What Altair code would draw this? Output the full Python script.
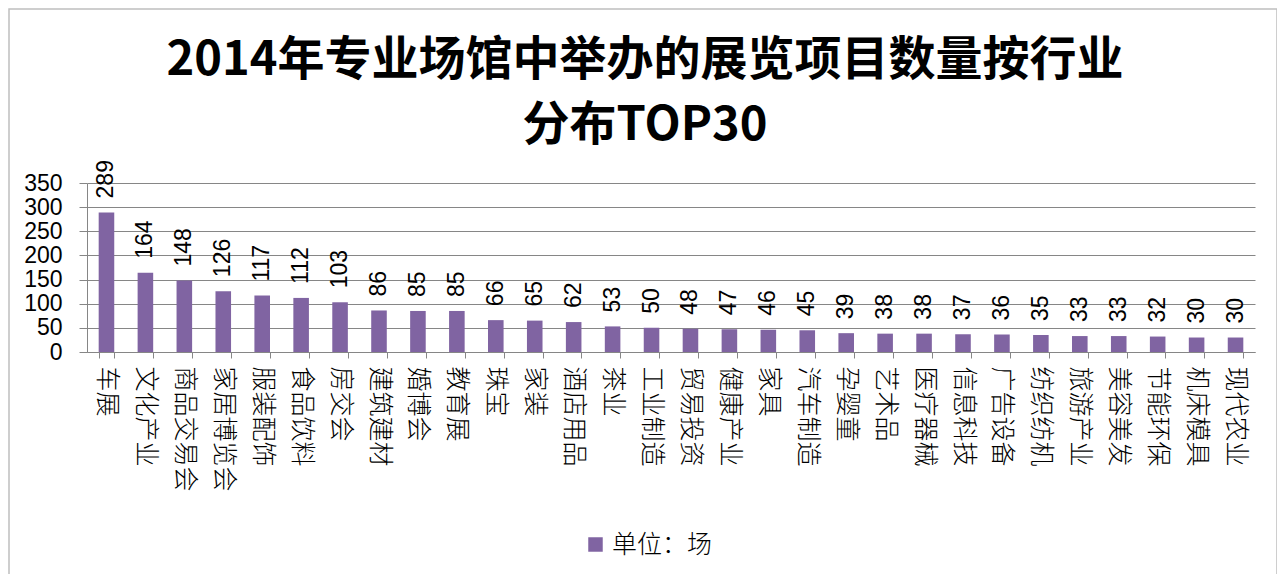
import altair as alt
import pandas as pd

categories = ["车展", "文化产业", "商品交易会", "家居博览会", "服装配饰", "食品饮料", "房交会",
              "建筑建材", "婚博会", "教育展", "珠宝", "家装", "酒店用品", "茶业", "工业制造",
              "贸易投资", "健康产业", "家具", "汽车制造", "孕婴童", "艺术品", "医疗器械",
              "信息科技", "广告设备", "纺织纺机", "旅游产业", "美容美发", "节能环保", "机床模具", "现代农业"]
values = [289, 164, 148, 126, 117, 112, 103, 86, 85, 85, 66, 65, 62, 53, 50,
          48, 47, 46, 45, 39, 38, 38, 37, 36, 35, 33, 33, 32, 30, 30]
series_name = "单位：场"
title_lines = ["2014年专业场馆中举办的展览项目数量按行业", "分布TOP30"]
y_ticks = [0, 50, 100, 150, 200, 250, 300, 350]

df = pd.DataFrame({"行业": categories, "数量": values, "系列": series_name})

CJK = "Noto Sans CJK SC"
NUM = "Liberation Sans"

x = alt.X("行业:N", sort=categories,
          scale=alt.Scale(paddingInner=0.6, paddingOuter=0.3),
          axis=alt.Axis(title=None, labelAngle=90, labelAlign="left", labelBaseline="middle",
                        labelFont=CJK, labelFontSize=25, labelFontWeight=300,
                        labelColor="#000000", labelPadding=8,
                        tickBand="extent", tickSize=6, tickColor="#868686",
                        domainColor="#868686", labelOverlap=False, labelLimit=300))
y = alt.Y("数量:Q", scale=alt.Scale(domain=[0, 350], nice=False),
          axis=alt.Axis(title=None, values=y_ticks, labelFont=NUM,
                        labelFontSize=23, labelColor="#000000", tickSize=8,
                        tickColor="#868686", domainColor="#868686", gridColor="#868686",
                        labelPadding=17, labelOverlap=False, labelFlush=False))

bars = alt.Chart(df).mark_bar(color="#8064A2").encode(
    x=x, y=y,
    color=alt.Color("系列:N", scale=alt.Scale(range=["#8064A2"]),
                    legend=alt.Legend(title=None, orient="none", legendX=496, legendY=349,
                                      symbolType="square", symbolSize=210,
                                      labelFont=CJK, labelFontSize=25, labelFontWeight=300,
                                      labelColor="#000000", symbolStrokeWidth=0))
)
labels = alt.Chart(df).mark_text(angle=270, align="left", baseline="middle", dx=14,
                                 font=NUM, fontSize=23, color="#000000").encode(
    x=x, y=y, text="数量:Q")

frame_df = pd.DataFrame({"k": [0]})
border = alt.Chart(frame_df).mark_rect(fill=None, stroke="#BFBFBF", strokeWidth=1.5,
                                       clip=False).encode(
    x=alt.value(-78), x2=alt.value(1190), y=alt.value(-174), y2=alt.value(392))

chart = alt.layer(bars, labels, border).properties(
    width=1168, height=169,
    title=alt.TitleParams(title_lines, font=CJK, fontSize=47, fontWeight="bold",
                          color="#000000", lineHeight=65, anchor="middle", frame="group",
                          dx=-26, offset=-142),
    autosize=alt.AutoSizeParams(type="none"),
    padding={"left": 79, "top": 175, "right": 22, "bottom": 222}
).configure_view(stroke=None).configure_axis(grid=False).configure_axisY(grid=True)

chart.save("out.html", embed_options={"renderer": "svg", "actions": False})
